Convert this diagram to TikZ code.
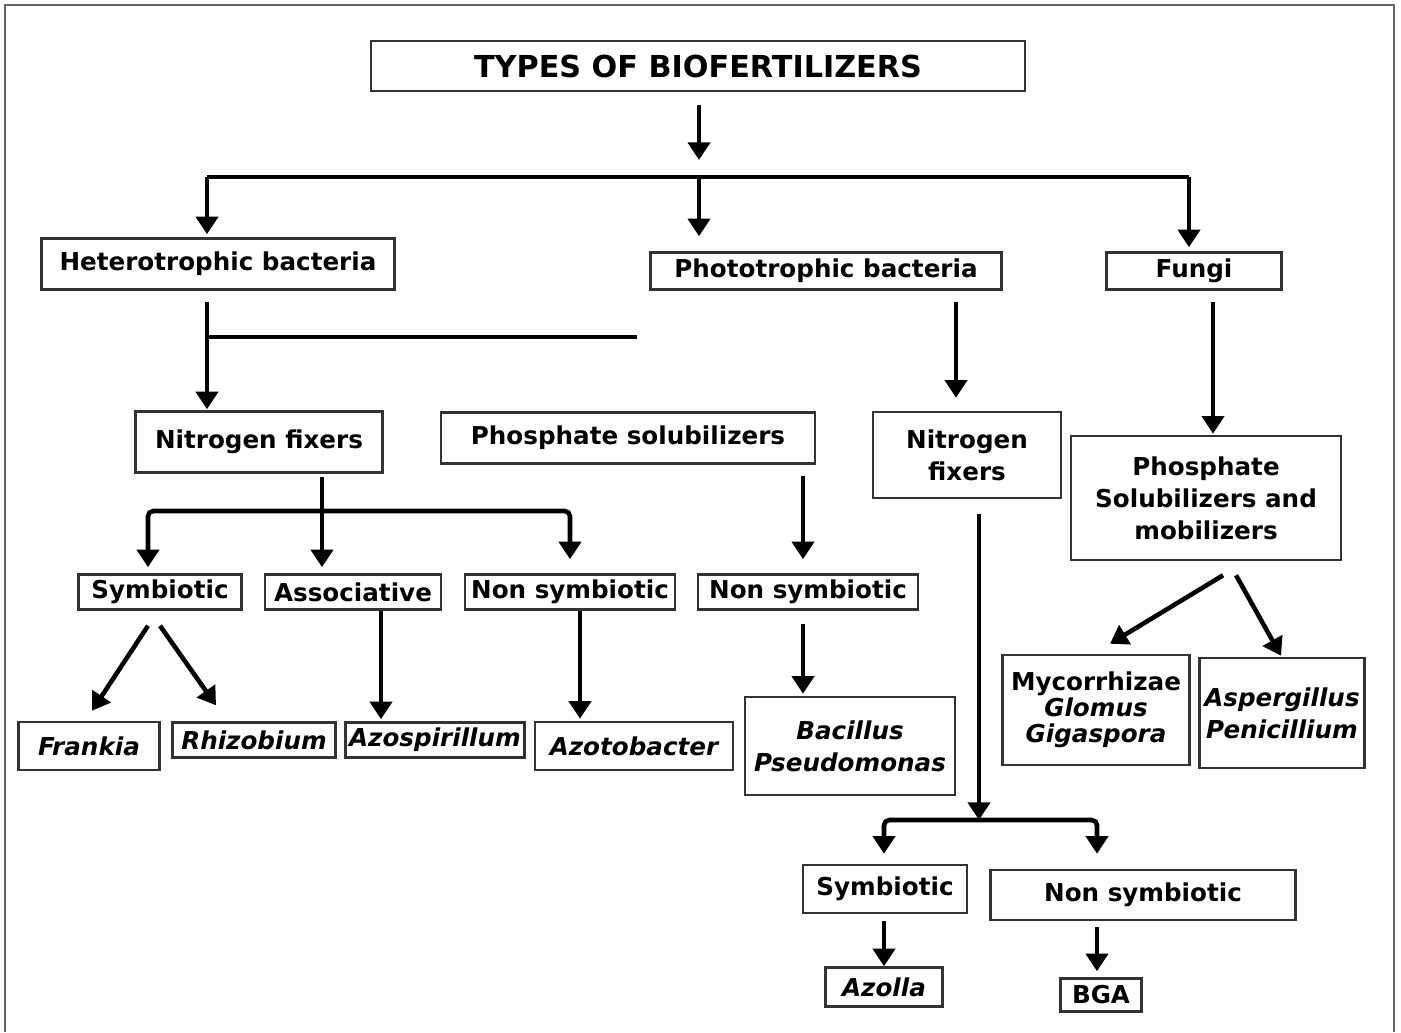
\documentclass[tikz,border=0pt]{standalone}
\usepackage{fontspec}
\setmainfont{DejaVu Sans}[BoldFont=* Bold, ItalicFont=* Oblique, BoldItalicFont=* Bold Oblique]
\usepackage{tikz}
\usetikzlibrary{calc,arrows.meta,positioning}

\begin{document}
\begin{tikzpicture}[x=0.01cm,y=-0.01cm]
  \tikzset{
    box/.style={draw=black!80, fill=white, line width=0.7pt, inner sep=1pt, align=center, font=\fontsize{7}{9.1}\selectfont\bfseries},
    ibox/.style={box, font=\fontsize{7}{9.1}\selectfont\bfseries\itshape},
    sz/.style 2 args={minimum width=#1cm, minimum height=#2cm},
    arr/.style={-{Triangle[length=5pt, width=6.2pt]}, line width=1.3pt, black},
    link/.style={line width=1.3pt, black},
    frame/.style={draw=black!60, line width=0.6pt}
  }
  \useasboundingbox (0,0) rectangle (1401,1032);

  % outer frame, open at the bottom
  \draw[frame] (5,1032) -- (5,5) -- (1394,5) -- (1394,1032);

  % ================= TOP LEVEL =================
  \node[box, sz={6.54}{0.50}, font=\fontsize{8.6}{10}\selectfont\bfseries] (title) at (698,66) {TYPES OF BIOFERTILIZERS};

  \node[box, sz={3.53}{0.51}] (het) at (218,264) {Heterotrophic bacteria};
  \node[box, sz={3.51}{0.37}] (photo) at (826,271) {Phototrophic bacteria};
  \node[box, sz={1.75}{0.37}] (fungi) at (1194,271) {Fungi};

  \coordinate (topbar) at (699,177);
  \coordinate (tbL) at (207,177);
  \coordinate (tbR) at (1189,177);

  \draw[arr, shorten <=0.13cm, shorten >=0.17cm] (title.south -| topbar) -- (topbar);
  \draw[link] (tbL) -- (tbR);
  \draw[arr, shorten >=0.03cm] (tbL) -- (het.north -| tbL);
  \draw[arr, shorten >=0.15cm] (topbar) -- (photo.north -| topbar);
  \draw[arr, shorten >=0.04cm] (tbR) -- (fungi.north -| tbR);

  % ================= SECOND LEVEL =================
  \node[box, sz={2.47}{0.61}] (nfixL) at (259,442) {Nitrogen fixers};
  \node[box, sz={3.74}{0.51}] (psol) at (628,438) {Phosphate solubilizers};
  \node[box, sz={1.88}{0.86}] (nfixM) at (967,455) {Nitrogen\\fixers};
  \node[box, sz={2.70}{1.24}] (psm) at (1206,498) {Phosphate\\Solubilizers and\\mobilizers};

  \coordinate (hj) at (207,337);
  \coordinate (hjE) at (637,337);
  \draw[arr, shorten <=0.11cm, shorten >=0.01cm] (het.south -| hj) -- (nfixL.north -| hj);
  \draw[link] (hj) -- (hjE);

  \draw[arr, shorten <=0.11cm, shorten >=0.13cm] (photo.south -| 956,0) -- (nfixM.north -| 956,0);
  \draw[arr, shorten <=0.11cm, shorten >=0.01cm] (fungi.south -| 1213,0) -- (psm.north -| 1213,0);

  % ================= THIRD LEVEL =================
  \node[box, sz={1.63}{0.35}] (symL) at (160,592) {Symbiotic};
  \node[box, sz={1.76}{0.35}] (assoc) at (353,592) {Associative};
  \node[box, sz={2.10}{0.35}] (nonsA) at (570,592) {Non symbiotic};
  \node[box, sz={2.20}{0.35}] (nonsB) at (808,592) {Non symbiotic};

  \coordinate (nb) at (322,511);
  \draw[arr, shorten <=0.03cm, shorten >=0.06cm] (nfixL.south -| nb) -- (assoc.north -| nb);
  \draw[arr, rounded corners=1.5pt, shorten >=0.06cm] (nb) -| (symL.north -| 148,0);
  \draw[arr, rounded corners=1.5pt, shorten >=0.14cm] (nb) -| (nonsA.north);

  \draw[arr, shorten <=0.11cm, shorten >=0.14cm] (psol.south -| 803,0) -- (nonsB.north -| 803,0);

  % ================= GENERA =================
  \node[ibox, sz={1.41}{0.48}] (frankia) at (89,746) {Frankia};
  \node[ibox, sz={1.63}{0.35}] (rhizo) at (254,740) {Rhizobium};
  \node[ibox, sz={1.75}{0.35}] (azosp) at (435,740) {Azospirillum};
  \node[ibox, sz={1.98}{0.48}] (azoto) at (634,746) {Azotobacter};
  \node[ibox, sz={2.10}{0.98}] (bacil) at (850,746) {Bacillus\\Pseudomonas};
  \node[box, sz={1.87}{1.10}, font=\fontsize{7}{7.4}\selectfont\bfseries] (myco) at (1096,710) {Mycorrhizae\\\textit{Glomus}\\\textit{Gigaspora}};
  \node[ibox, sz={1.65}{1.10}] (asper) at (1282,713) {Aspergillus\\Penicillium};

  \draw[arr] ($(symL.south)+(-12,15)$) -- ($(frankia.north)+(3,-10)$);
  \draw[arr] ($(symL.south)+(0,15)$) -- ($(rhizo.north)+(-38,-16)$);
  \draw[arr, shorten >=0.02cm] (assoc.south -| 381,0) -- (azosp.north -| 381,0);
  \draw[arr, shorten >=0.02cm] (nonsA.south -| 580,0) -- (azoto.north -| 580,0);
  \draw[arr, shorten <=0.13cm, shorten >=0.02cm] (nonsB.south -| 803,0) -- (bacil.north -| 803,0);

  \draw[arr] ($(psm.south)+(17,14)$) -- ($(myco.north)+(14,-10)$);
  \draw[arr] ($(psm.south)+(30,14)$) -- ($(asper.north)+(-1,-1)$);

  % ================= PHOTOTROPHIC BRANCH =================
  \node[box, sz={1.64}{0.48}] (symB) at (885,889) {Symbiotic};
  \node[box, sz={3.05}{0.50}] (nonsC) at (1143,895) {Non symbiotic};
  \node[ibox, sz={1.17}{0.39}] (azolla) at (884,987) {Azolla};
  \node[box, sz={0.81}{0.33}] (bga) at (1101,995) {BGA};

  \coordinate (mb) at (979,820);
  \draw[arr, shorten <=0.15cm] (nfixM.south -| mb) -- (mb);
  \draw[arr, rounded corners=1.5pt, shorten >=0.10cm] (mb) -| (symB.north -| 884,0);
  \draw[arr, rounded corners=1.5pt, shorten >=0.15cm] (mb) -| (nonsC.north -| 1097,0);

  \draw[arr, shorten <=0.07cm] (symB.south -| 884,0) -- (azolla.north -| 884,0);
  \draw[arr, shorten <=0.06cm, shorten >=0.06cm] (nonsC.south -| 1097,0) -- (bga.north -| 1097,0);

\end{tikzpicture}
\end{document}
